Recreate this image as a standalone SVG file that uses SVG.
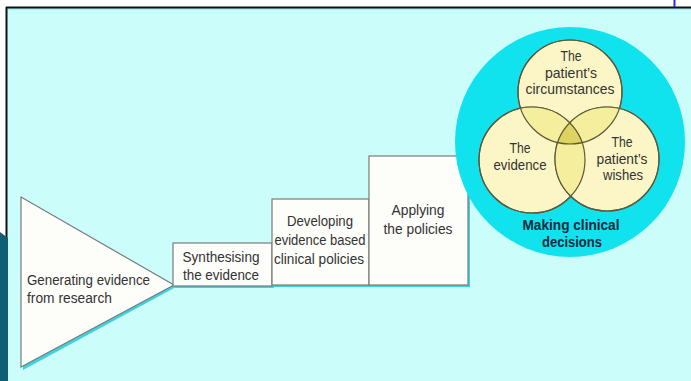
<svg xmlns="http://www.w3.org/2000/svg" width="691" height="381" viewBox="0 0 691 381">
<defs>
<style>
.bg{fill:#cbfdfb}
.shape{fill:#fdfdf9;stroke:#7b7b7b;stroke-width:1.2}
.shadow{fill:#3fd2dc}
.lbl{font-family:"Liberation Sans",Arial,sans-serif;font-size:15.5px;fill:#333;text-anchor:middle}
.lbl-l{font-family:"Liberation Sans",Arial,sans-serif;font-size:15.5px;fill:#333}
.ven{font-family:"Liberation Sans",Arial,sans-serif;font-size:14.5px;fill:#333;text-anchor:middle}
.title{font-family:"Liberation Sans",Arial,sans-serif;font-size:15px;font-weight:bold;fill:#0d2a3f;text-anchor:middle}
.vc{fill:#fcf6c6;stroke:#5c5a3c;stroke-width:1.2}
.vline{fill:none;stroke:#5c5a3c;stroke-width:1.2}
</style>
<clipPath id="cA"><circle cx="570" cy="92" r="52"/></clipPath>
<clipPath id="cB"><circle cx="532" cy="160" r="53"/></clipPath>
<clipPath id="cC"><circle cx="607" cy="159" r="52"/></clipPath>
</defs>

<!-- page -->
<rect x="0" y="0" width="691" height="381" fill="#ffffff"/>
<rect class="bg" x="7" y="7" width="684" height="374"/>
<rect x="8" y="8" width="683" height="2" fill="#9ff3f5"/>
<line x1="6" y1="7.5" x2="691" y2="7.5" stroke="#111" stroke-width="2"/>
<line x1="6.5" y1="7" x2="6.5" y2="240" stroke="#111" stroke-width="2"/>
<polygon points="0,232 8,238 8,381 0,381" fill="#0f5f74"/>
<line x1="674.5" y1="0" x2="674.5" y2="7" stroke="#2b2be6" stroke-width="2"/>

<!-- Generating evidence -->
<g id="node-generating">
<polygon class="shadow" points="23,200 23,370 176,287"/>
<polygon class="shape" points="21,197 21,367 174,285"/>
<text class="lbl-l" x="27" y="285" textLength="123" lengthAdjust="spacingAndGlyphs">Generating evidence</text>
<text class="lbl-l" x="27" y="303" textLength="85" lengthAdjust="spacingAndGlyphs">from research</text>
</g>

<!-- Synthesising -->
<g id="node-synthesising">
<rect class="shadow" x="175" y="245" width="99" height="43"/>
<rect class="shape" x="173" y="243" width="99" height="43"/>
<text class="lbl" x="221" y="262" textLength="77" lengthAdjust="spacingAndGlyphs">Synthesising</text>
<text class="lbl" x="221" y="280" textLength="76" lengthAdjust="spacingAndGlyphs">the evidence</text>
</g>

<!-- Developing -->
<g id="node-developing">
<rect class="shadow" x="274" y="201" width="97" height="86"/>
<rect class="shape" x="272" y="199" width="97" height="86"/>
<text class="lbl" x="320" y="226" textLength="66" lengthAdjust="spacingAndGlyphs">Developing</text>
<text class="lbl" x="320" y="245" textLength="91" lengthAdjust="spacingAndGlyphs">evidence based</text>
<text class="lbl" x="319" y="264" textLength="90" lengthAdjust="spacingAndGlyphs">clinical policies</text>
</g>

<!-- Applying -->
<g id="node-applying">
<rect class="shadow" x="371" y="158" width="99" height="129"/>
<rect class="shape" x="369" y="156" width="99" height="129"/>
<text class="lbl" x="418" y="215" textLength="53" lengthAdjust="spacingAndGlyphs">Applying</text>
<text class="lbl" x="418" y="234" textLength="69" lengthAdjust="spacingAndGlyphs">the policies</text>
</g>

<!-- Making clinical decisions -->
<g id="node-decisions">
<circle cx="570" cy="142" r="115" fill="#10e3ee"/>
<circle class="vc" cx="570" cy="92" r="52"/>
<circle class="vc" cx="532" cy="160" r="53"/>
<circle class="vc" cx="607" cy="159" r="52"/>
<g clip-path="url(#cA)"><circle cx="532" cy="160" r="53" fill="#f5ee9c"/><circle cx="607" cy="159" r="52" fill="#f5ee9c"/></g>
<g clip-path="url(#cB)"><circle cx="607" cy="159" r="52" fill="#f5ee9c"/></g>
<g clip-path="url(#cA)"><g clip-path="url(#cB)"><circle cx="607" cy="159" r="52" fill="#ddd35e"/></g></g>
<circle class="vline" cx="570" cy="92" r="52"/>
<circle class="vline" cx="532" cy="160" r="53"/>
<circle class="vline" cx="607" cy="159" r="52"/>
<text class="ven" x="571" y="61" textLength="21" lengthAdjust="spacingAndGlyphs">The</text>
<text class="ven" x="571" y="78" textLength="52" lengthAdjust="spacingAndGlyphs">patient’s</text>
<text class="ven" x="570" y="94" textLength="89" lengthAdjust="spacingAndGlyphs">circumstances</text>
<text class="ven" x="520" y="153" textLength="21" lengthAdjust="spacingAndGlyphs">The</text>
<text class="ven" x="520" y="170" textLength="53" lengthAdjust="spacingAndGlyphs">evidence</text>
<text class="ven" x="622" y="147" textLength="21" lengthAdjust="spacingAndGlyphs">The</text>
<text class="ven" x="622" y="164" textLength="51" lengthAdjust="spacingAndGlyphs">patient’s</text>
<text class="ven" x="623" y="180" textLength="40" lengthAdjust="spacingAndGlyphs">wishes</text>
<text class="title" x="571" y="230" textLength="97" lengthAdjust="spacingAndGlyphs">Making clinical</text>
<text class="title" x="572" y="247" textLength="60" lengthAdjust="spacingAndGlyphs">decisions</text>
</g>

<g id="connectors"/>
</svg>
